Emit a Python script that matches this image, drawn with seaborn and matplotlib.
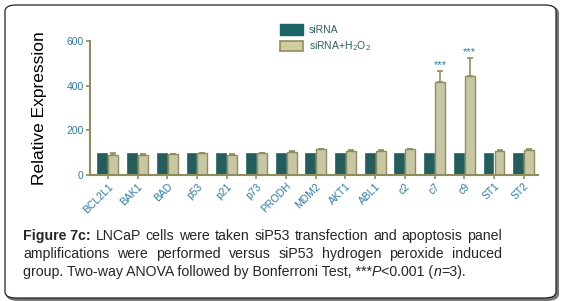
import matplotlib
matplotlib.use("Agg")
import matplotlib.pyplot as plt
import seaborn as sns
import pandas as pd
from matplotlib.patches import FancyBboxPatch, Patch

genes = ["BCL2L1", "BAK1", "BAD", "p53", "p21", "p73", "PRODH", "MDM2",
         "AKT1", "ABL1", "c2", "c7", "c9", "ST1", "ST2"]
sirna = [100, 100, 100, 100, 100, 100, 100, 100, 100, 100, 100, 100, 100, 100, 100]
h2o2 = [88, 90, 92, 97, 90, 97, 103, 115, 109, 109, 116, 418, 445, 109, 111]
h2o2_err = [10, 4, 3, 3, 4, 3, 3, 3, 3, 5, 2, 48, 77, 5, 7]
sig_genes = ["c7", "c9"]
series = ["siRNA", "siRNA+H$_2$O$_2$"]
yticks = [0, 200, 400, 600]

caption_lines = [
    "LNCaP cells were taken siP53 transfection and apoptosis panel",
    "amplifications were performed versus siP53 hydrogen peroxide induced",
]

DARK = "#1a6664"
LIGHT = "#cfcd9d"
OLIVE = "#8f8d5c"
TICKC = "#2b7aa6"

sns.set_theme(style="white")
plt.rcParams["font.family"] = ["Liberation Sans", "DejaVu Sans"]

df = pd.DataFrame({
    "gene": genes * 2,
    "value": sirna + h2o2,
    "group": [series[0]] * len(genes) + [series[1]] * len(genes),
})

fig = plt.figure(figsize=(5.62, 3.01), dpi=100)
W, H = 562, 301

# border with shadow
shadow = FancyBboxPatch((7 / W, 1 / H), 551 / W, 293 / H,
                        boxstyle="round,pad=0,rounding_size=0.02",
                        transform=fig.transFigure, facecolor="#777777",
                        edgecolor="#777777", lw=1.5, zorder=-2)
box = FancyBboxPatch((5 / W, 3 / H), 551 / W, 293 / H,
                     boxstyle="round,pad=0,rounding_size=0.02",
                     transform=fig.transFigure, facecolor="white",
                     edgecolor="#222222", lw=0.9, zorder=-1)
fig.patches.extend([shadow, box])

ax = fig.add_axes([90 / W, 1 - 175 / H, (538 - 90) / W, (175 - 41) / H])
ax.set_facecolor("none")
sns.barplot(data=df, x="gene", y="value", hue="group", palette=[DARK, LIGHT],
            width=0.74, gap=0.1, ax=ax, legend=True, errorbar=None)

n = len(genes)
patches = ax.patches[:2 * n]
for p in patches[n:2 * n]:
    p.set_edgecolor(OLIVE)
    p.set_linewidth(1.0)
for p in patches[:n]:
    p.set_edgecolor(DARK)
    p.set_linewidth(0.5)

xs = [p.get_x() + p.get_width() / 2 for p in patches[n:2 * n]]
ax.errorbar(xs, h2o2, yerr=[[0] * n, h2o2_err], fmt="none", ecolor=OLIVE,
            elinewidth=1.2, capsize=2.5, capthick=1.2, zorder=1)
for x, v, e, g in zip(xs, h2o2, h2o2_err, genes):
    if g in sig_genes:
        ax.text(x, v + e + 6, "***", ha="center", va="bottom", fontsize=8,
                color=TICKC)

ax.set_xlim(-0.6, 14.48)
ax.set_ylim(0, 600)
ax.set_yticks(yticks)
ax.set_yticklabels([str(t) for t in yticks], fontsize=7.5, color=TICKC)
ax.set_xticks(range(n))
ax.set_xticklabels(genes, rotation=45, ha="right", rotation_mode="anchor",
                   fontsize=7.5, color=TICKC)
ax.set_xlabel("")
ax.set_ylabel("Relative Expression", fontsize=12.5, color="black", labelpad=14)
for s in ["top", "right"]:
    ax.spines[s].set_visible(False)
for s in ["left", "bottom"]:
    ax.spines[s].set_color(OLIVE)
    ax.spines[s].set_linewidth(1.5)
ax.tick_params(axis="both", which="both", direction="out", length=3,
               width=1.2, color=OLIVE, pad=1.5, left=True, bottom=True)

handles = [Patch(facecolor=DARK, edgecolor=DARK),
           Patch(facecolor=LIGHT, edgecolor=OLIVE, lw=1.2)]
ax.legend(handles, series, loc="upper left",
          bbox_to_anchor=(280 / W, 1 - 24 / H), bbox_transform=fig.transFigure,
          frameon=False, fontsize=7.5, handlelength=2.2, handleheight=1.2,
          labelspacing=0.45, handletextpad=0.6, borderpad=0, borderaxespad=0,
          labelcolor="#2d5f60")

# caption, justified
renderer = fig.canvas.get_renderer()
x0, x1 = 23 / W, 502 / W
fs = 10.15
ys = [1 - 240 / H, 1 - 258 / H, 1 - 276 / H]


def width_of(t):
    bb = t.get_window_extent(renderer=renderer)
    return bb.width / W


def justify(words, y, first_bold=None):
    items = []
    if first_bold:
        items.append(fig.text(0, y, first_bold, fontsize=fs, fontweight="bold"))
    for w in words:
        items.append(fig.text(0, y, w, fontsize=fs))
    widths = [width_of(t) for t in items]
    space = (x1 - x0 - sum(widths)) / (len(items) - 1)
    x = x0
    for t, wd in zip(items, widths):
        t.set_x(x)
        x += wd + space


justify(caption_lines[0].split(), ys[0], first_bold="Figure 7c:")
justify(caption_lines[1].split(), ys[1])

parts = [("group. Two-way ANOVA followed by Bonferroni Test, ***", "normal"),
         ("P", "italic"), ("<0.001 (", "normal"), ("n", "italic"),
         ("=3).", "normal")]
x = x0
for txt, st in parts:
    t = fig.text(x, ys[2], txt, fontsize=fs, fontstyle=st)
    x += width_of(t)

fig.savefig("out.png", dpi=100)
